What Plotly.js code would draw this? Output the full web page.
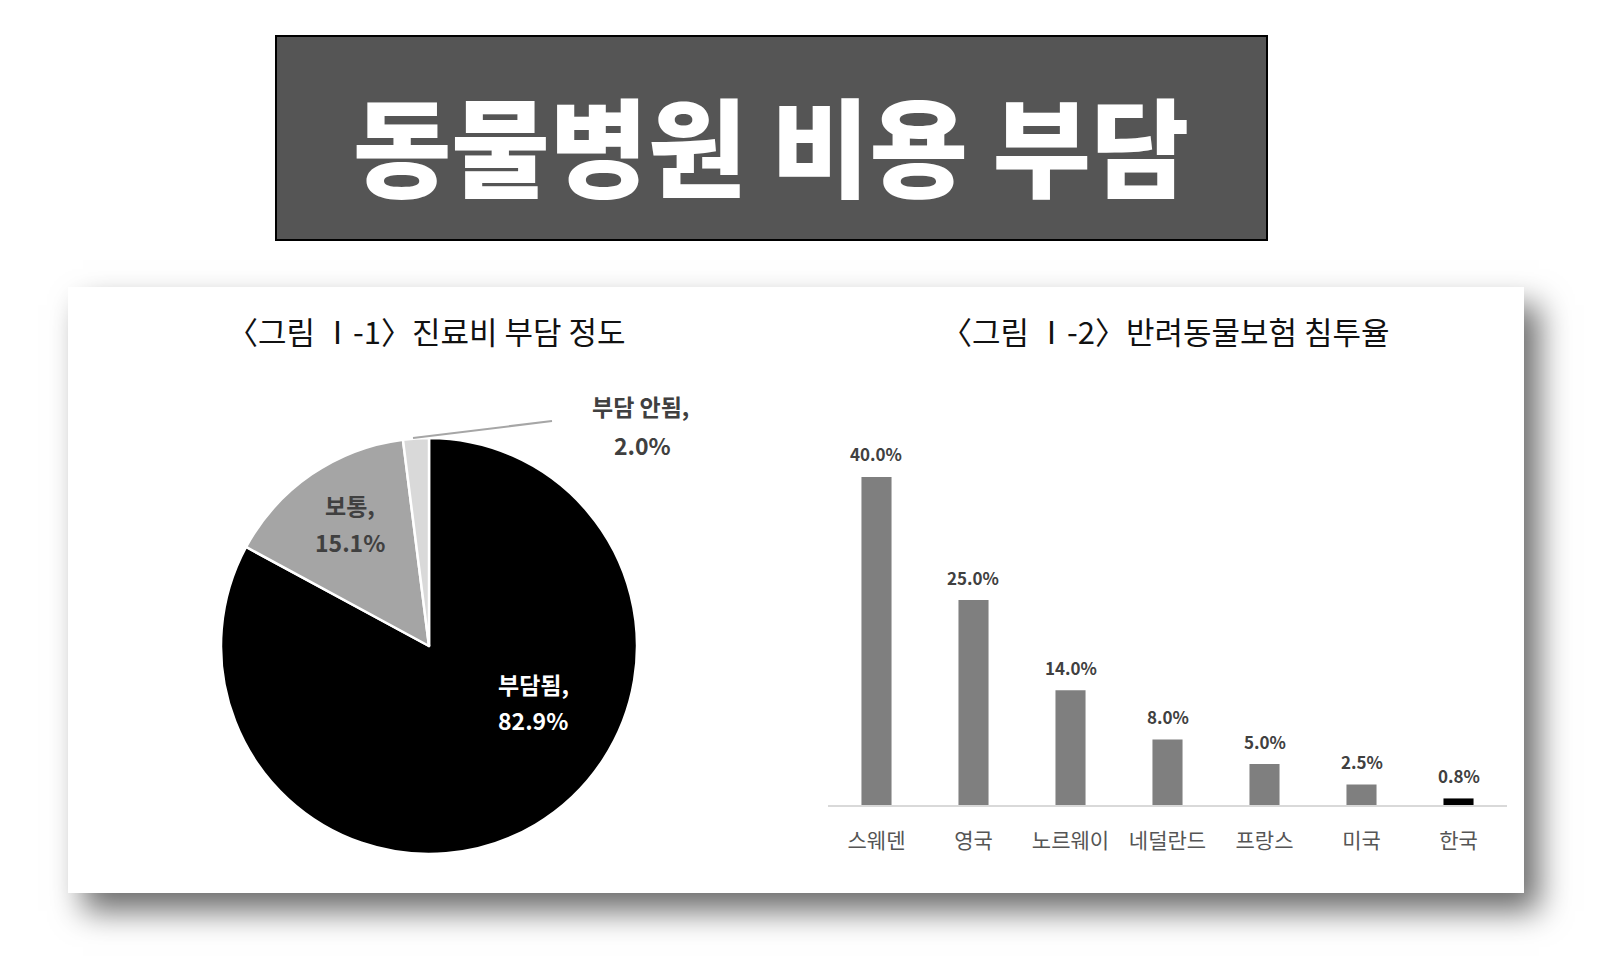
<!DOCTYPE html>
<html>
<head>
<meta charset="utf-8">
<script src="https://cdn.plot.ly/plotly-3.0.1.min.js"></script>
<style>
  html, body { margin: 0; padding: 0; background: #ffffff; }
  #wrap { position: relative; width: 1622px; height: 960px; overflow: hidden; background: #ffffff; }
  #panel { position: absolute; left: 68px; top: 287px; width: 1456px; height: 606px; background: #ffffff;
           box-shadow: 15px 18px 30px rgba(0,0,0,0.58); }
  #chart { position: absolute; left: 0; top: 0; width: 1622px; height: 960px; }
</style>
</head>
<body>
<div id="wrap">
  <div id="panel"></div>
  <div id="chart"></div>
</div>
<script>
// ---- data ----
const mainTitle = '동물병원 비용 부담';
const pieTitle = '〈그림 Ⅰ-1〉진료비 부담 정도';
const barTitle = '〈그림 Ⅰ-2〉반려동물보험 침투율';

const pieLabels = ['부담됨', '보통', '부담 안됨'];
const pieValues = [82.9, 15.1, 2.0];

const countries = ['스웨덴', '영국', '노르웨이', '네덜란드', '프랑스', '미국', '한국'];
const rates = [40.0, 25.0, 14.0, 8.0, 5.0, 2.5, 0.8];

// ---- styles / layout ----
const W = 1622, H = 960;
const px = x => x / W;
const py = y => 1 - y / H;
const FONT = '"Noto Sans CJK KR", "Noto Sans", sans-serif';

const pieColors = ['#000000', '#a5a5a5', '#d9d9d9'];
const barColors = countries.map(c => c === '한국' ? '#000000' : '#7f7f7f');

const pieTrace = {
  type: 'pie',
  labels: pieLabels,
  values: pieValues,
  sort: false,
  direction: 'clockwise',
  rotation: 0,
  textinfo: 'none',
  hoverinfo: 'none',
  showlegend: false,
  marker: { colors: pieColors, line: { color: '#ffffff', width: 2.5 } },
  domain: { x: [px(221), px(637)], y: [py(854), py(438)] }
};

const barTrace = {
  type: 'bar',
  x: countries,
  y: rates,
  marker: { color: barColors },
  hoverinfo: 'none',
  showlegend: false,
  xaxis: 'x',
  yaxis: 'y'
};

// pie label positions (pixel centres of the two text lines)
const pieLabelPos = [
  { l1: [533, 684], l2: [533, 720], color: '#ffffff' },
  { l1: [350, 505], l2: [350, 542], color: '#404040' },
  { l1: [640, 406], l2: [642, 445], color: '#404040' }
];

const annotations = [];
pieLabels.forEach((lab, i) => {
  const p = pieLabelPos[i];
  annotations.push({
    xref: 'paper', yref: 'paper', x: px(p.l1[0]), y: py(p.l1[1]),
    xanchor: 'center', yanchor: 'middle', showarrow: false,
    text: lab + ',', font: { family: FONT, size: 23, color: p.color, weight: 700 }
  });
  annotations.push({
    xref: 'paper', yref: 'paper', x: px(p.l2[0]), y: py(p.l2[1]),
    xanchor: 'center', yanchor: 'middle', showarrow: false,
    text: pieValues[i].toFixed(1) + '%', font: { family: FONT, size: 23, color: p.color, weight: 700 }
  });
});

countries.forEach((c, i) => {
  annotations.push({
    xref: 'x', yref: 'y', x: c, y: rates[i],
    xanchor: 'center', yanchor: 'middle', yshift: 23, showarrow: false,
    text: rates[i].toFixed(1) + '%', font: { family: FONT, size: 17, color: '#404040', weight: 700 }
  });
});

annotations.push({
  xref: 'paper', yref: 'paper', x: px(426), y: py(331), xanchor: 'center', yanchor: 'middle',
  showarrow: false, text: pieTitle, font: { family: FONT, size: 31, color: '#111111' }
});
annotations.push({
  xref: 'paper', yref: 'paper', x: px(1165), y: py(331), xanchor: 'center', yanchor: 'middle',
  showarrow: false, text: barTitle, font: { family: FONT, size: 31, color: '#111111' }
});

const shapes = [
  { type: 'rect', xref: 'paper', yref: 'paper', x0: px(276), x1: px(1267), y0: py(240), y1: py(36),
    fillcolor: '#555555', line: { color: '#000000', width: 2 }, layer: 'below' },
  { type: 'line', xref: 'paper', yref: 'paper', x0: px(413), y0: py(438), x1: px(552), y1: py(421),
    line: { color: '#a6a6a6', width: 2 } }
];

const layout = {
  width: W, height: H,
  margin: { l: 0, r: 0, t: 0, b: 0 },
  paper_bgcolor: 'rgba(0,0,0,0)',
  plot_bgcolor: 'rgba(0,0,0,0)',
  font: { family: FONT },
  title: {
    text: mainTitle, xref: 'paper', yref: 'paper', x: px(771), y: py(152),
    xanchor: 'center', yanchor: 'middle',
    font: { family: FONT, size: 107, color: '#ffffff', weight: 900 }
  },
  xaxis: {
    domain: [px(828), px(1507)], range: [-0.5, 6.5], type: 'category',
    showline: true, linecolor: '#d9d9d9', linewidth: 1.5, showgrid: false, zeroline: false,
    ticks: '', ticklabelstandoff: 16,
    tickfont: { family: FONT, size: 21, color: '#555555' }
  },
  yaxis: {
    domain: [py(805), py(395)], range: [0, 50], visible: false, showgrid: false, zeroline: false
  },
  bargap: 0.69,
  annotations: annotations,
  shapes: shapes
};

Plotly.newPlot('chart', [pieTrace, barTrace], layout, { staticPlot: true, displayModeBar: false });
</script>
</body>
</html>
